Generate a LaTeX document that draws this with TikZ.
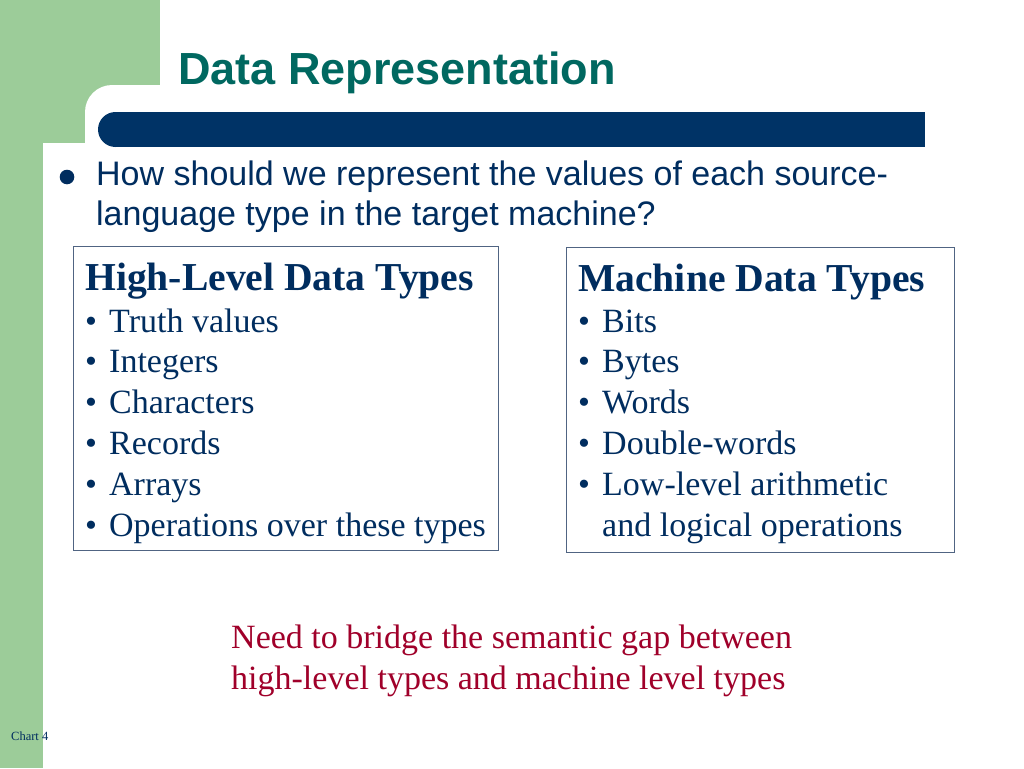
\documentclass[tikz,border=0pt]{standalone}
\usepackage{fontspec}
\setmainfont{Liberation Serif}
\newfontfamily\arialf{Liberation Sans}
\definecolor{lgreen}{RGB}{156,204,153}
\definecolor{barnavy}{RGB}{0,51,102}
\definecolor{titleteal}{RGB}{0,104,96}
\definecolor{txtnavy}{RGB}{0,45,95}
\definecolor{redtxt}{RGB}{160,0,42}
\definecolor{boxline}{RGB}{80,100,130}
\tikzset{
  hd/.style={anchor=base west, inner sep=0pt, text=txtnavy, font=\fontsize{39.6}{44}\selectfont\bfseries},
  itm/.style={anchor=base west, inner sep=0pt, text=txtnavy, font=\fontsize{34}{40}\selectfont},
  dotb/.style={anchor=base west, inner sep=0pt, text=txtnavy, font=\fontsize{34}{40}\selectfont},
  sans/.style={anchor=base west, inner sep=0pt, text=txtnavy, font=\arialf\fontsize{34}{40}\selectfont},
  redt/.style={anchor=base west, inner sep=0pt, text=redtxt, font=\fontsize{34}{40}\selectfont},
  typebox/.style={draw=boxline, line width=1.4pt, anchor=north west, inner sep=0pt},
}
\begin{document}
\begin{tikzpicture}[x=1pt,y=-1pt]
\useasboundingbox (0,0) rectangle (1024,768);
\fill[white] (0,0) rectangle (1024,768);
% background decoration
\fill[lgreen] (0,0) rectangle (160,143);
\fill[lgreen] (0,0) rectangle (43,768);
\fill[white, rounded corners=27pt] (85,85) rectangle (1060,175);
\fill[white] (43,143) rectangle (1024,768);
% blue bar
\fill[barnavy] (115.5,112) rectangle (925,147);
\fill[barnavy] (115.5,129.5) circle (17.5);
% title
\node[anchor=base west, inner sep=0pt, text=titleteal, font=\arialf\fontsize{45}{50}\selectfont\bfseries] (title) at (178,84) {Data Representation};
% main bullet
\fill[txtnavy] (67,177) circle (7.3);
\node[sans] (q1) at (96,185) {How should we represent the values of each source-};
\node[sans] (q2) at (96,225) {language type in the target machine?};
% left box
\node[typebox, minimum width=425pt, minimum height=304pt] (lbox) at (73,246) {};
\node[hd] (lh) at (85,290) {High-Level Data Types};
\foreach \t [count=\i] in {Truth values, Integers, Characters, Records, Arrays, Operations over these types}{
  \node[dotb] (lb\i) at (85,332+40.8*\i-40.8) {\textbullet};
  \node[itm] (li\i) at (109,332+40.8*\i-40.8) {\t};
}
% right box
\node[typebox, minimum width=388pt, minimum height=305pt] (rbox) at (566,247) {};
\node[hd] (rh) at (578,291) {Machine Data Types};
\foreach \t [count=\i] in {Bits, Bytes, Words, Double-words, Low-level arithmetic}{
  \node[dotb] (rb\i) at (578,332+40.8*\i-40.8) {\textbullet};
  \node[itm] (ri\i) at (602,332+40.8*\i-40.8) {\t};
}
\node[itm] (ri6) at (602,536) {and logical operations};
% red note
\node[redt] (n1) at (231,648) {Need to bridge the semantic gap between};
\node[redt] (n2) at (231,689) {high-level types and machine level types};
% footer
\node[anchor=base west, inner sep=0pt, text=txtnavy, font=\fontsize{12.5}{14}\selectfont] (chart) at (11,740) {Chart 4};
\end{tikzpicture}
\end{document}
